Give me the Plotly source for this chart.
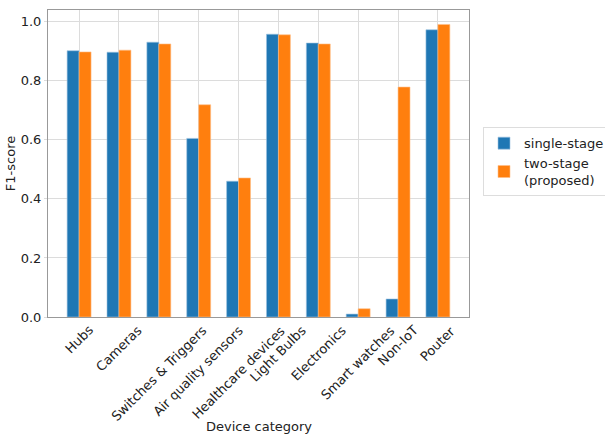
import plotly.graph_objects as go

categories = ["Hubs", "Cameras", "Switches & Triggers", "Air quality sensors",
              "Healthcare devices", "Light Bulbs", "Electronics",
              "Smart watches", "Non-IoT", "Pouter"]
single_stage = [0.902, 0.897, 0.931, 0.605, 0.460, 0.958, 0.928, 0.010, 0.061, 0.973]
two_stage = [0.898, 0.904, 0.925, 0.719, 0.471, 0.956, 0.925, 0.028, 0.779, 0.991]
y_ticks = [0.0, 0.2, 0.4, 0.6, 0.8, 1.0]

x_idx = list(range(len(categories)))
font = "DejaVu Sans, sans-serif"
text_color = "#222"

fig = go.Figure()
fig.add_trace(go.Bar(x=x_idx, y=single_stage, name="single-stage",
                     marker=dict(color="#1f77b4", line=dict(color="#9ec3e0", width=0.6))))
fig.add_trace(go.Bar(x=x_idx, y=two_stage, name="two-stage<br>(proposed)",
                     marker=dict(color="#ff7f0e", line=dict(color="#ffc08a", width=0.6))))

# rotated category labels, centred under each group
for i, label in zip(x_idx, categories):
    fig.add_annotation(x=i, y=0, xref="x", yref="y", text=label, showarrow=False,
                       textangle=-45, xanchor="center", yanchor="top", yshift=-3,
                       font=dict(size=13, family=font, color=text_color))

# x-axis title
fig.add_annotation(x=0.5, y=-0.357, xref="paper", yref="paper", text="Device category",
                   showarrow=False, yanchor="middle",
                   font=dict(size=13, family=font, color=text_color))

fig.update_layout(
    width=605, height=437,
    margin=dict(l=48, r=136, t=10, b=120),
    paper_bgcolor="white", plot_bgcolor="white",
    barmode="group", bargap=0.4, bargroupgap=0,
    font=dict(family=font, size=13, color=text_color),
    legend=dict(x=483 / 605, y=0.63, xref="container", yref="container",
                xanchor="left", yanchor="middle",
                bordercolor="#dddddd", borderwidth=1, font=dict(size=13),
                tracegroupgap=0, itemwidth=30),
    xaxis=dict(
        tickmode="array", tickvals=x_idx, showticklabels=False,
        range=[-0.78, 9.78], showgrid=True, gridcolor="#dcdcdc", gridwidth=1,
        ticks="", automargin=False,
        showline=True, linecolor="#999", linewidth=1, mirror=True,
    ),
    yaxis=dict(
        tickmode="array", tickvals=y_ticks, ticktext=[f"{v:.1f}" for v in y_ticks],
        range=[0, 1.04], showgrid=True, gridcolor="#dcdcdc", gridwidth=1,
        ticks="outside", ticklen=3, tickcolor="#dcdcdc", zeroline=False, automargin=False,
        showline=True, linecolor="#999", linewidth=1, mirror=True,
        title=dict(text="F1-score", font=dict(size=13), standoff=2),
        tickfont=dict(size=13),
    ),
)

fig.write_html("out.html")
